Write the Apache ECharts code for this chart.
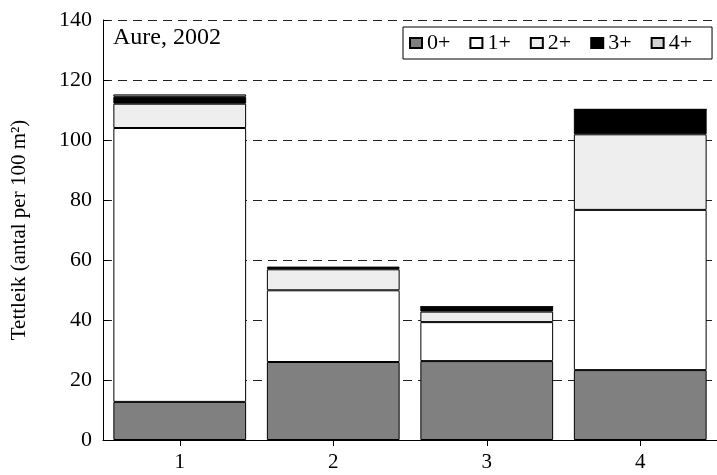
<!DOCTYPE html>
<html>
<head>
<meta charset="utf-8">
<script src="https://cdn.jsdelivr.net/npm/echarts@6/dist/echarts.min.js"></script>
<style>
  html, body { margin: 0; padding: 0; background: #fff; }
  #chart { width: 717px; height: 475px; }
</style>
</head>
<body>
<div id="chart"></div>
<script>
// stasjonar og tettleik per aldersgruppe (antal per 100 m2)
var stations = ['1', '2', '3', '4'];
var age0 = [12.7, 26.0, 26.3, 23.3];
var age1 = [91.3, 23.9, 13.0, 53.4];
var age2 = [8.1, 7.0, 3.5, 25.2];
var age3 = [2.3, 0.4, 1.6, 8.3];
var age4 = [0.8, 0.5, 0, 0];
var yTicks = [0, 20, 40, 60, 80, 100, 120, 140];

var serif = '"Liberation Serif", "Times New Roman", serif';

function segment(name, data, color){
    return {
        name: name,
        type: 'bar',
        stack: 'total',
        data: data,
        barCategoryGap: '13.5%',
        itemStyle: {
            color: color,
            borderColor: '#000',
            borderWidth: 1
        }
    };
}

var chart = echarts.init(document.getElementById('chart'));
var option = {
    animation: false,
    backgroundColor: '#fff',
    title: {
        text: 'Aure, 2002',
        left: 113,
        top: 26,
        padding: 0,
        textStyle: {
            fontFamily: serif,
            fontSize: 24,
            fontWeight: 'normal',
            color: '#000'
        }
    },
    legend: {
        left: 403,
        top: 27,
        width: 600,
        orient: 'horizontal',
        padding: [5, 20, 5, 6],
        itemGap: 19,
        itemWidth: 12,
        itemHeight: 10,
        icon: 'rect',
        borderColor: '#000',
        borderWidth: 1,
        backgroundColor: '#fff',
        textStyle: {
            fontFamily: serif,
            fontSize: 22,
            color: '#000'
        },
        data: ['0+', '1+', '2+', '3+', '4+']
    },
    grid: {
        left: 103,
        right: -10,
        top: 20,
        bottom: 35,
        containLabel: false
    },
    xAxis: {
        type: 'category',
        data: stations,
        axisLine: { lineStyle: { color: '#000', width: 1 } },
        axisTick: { show: true, alignWithLabel: true, length: 6, lineStyle: { color: '#000' } },
        axisLabel: {
            margin: 12,
            fontFamily: serif,
            fontSize: 21,
            color: '#000'
        },
        splitLine: { show: false }
    },
    yAxis: {
        type: 'value',
        min: yTicks[0],
        max: yTicks[yTicks.length - 1],
        interval: 20,
        name: 'Tettleik (antal per 100 m²)',
        nameLocation: 'middle',
        nameGap: 73,
        nameTextStyle: {
            fontFamily: serif,
            fontSize: 21,
            color: '#000'
        },
        axisLine: { show: true, lineStyle: { color: '#000', width: 1 } },
        axisTick: { show: true, inside: true, length: 6, lineStyle: { color: '#000' } },
        axisLabel: {
            margin: 11,
            fontFamily: serif,
            fontSize: 22,
            color: '#000'
        },
        splitLine: {
            show: true,
            lineStyle: { color: '#222', type: [9, 6], width: 1 }
        }
    },
    series: [
        segment('0+', age0, '#808080'),
        segment('1+', age1, '#ffffff'),
        segment('2+', age2, '#eeeeee'),
        segment('3+', age3, '#000000'),
        segment('4+', age4, '#d3d3d3')
    ]
};
chart.setOption(option);
</script>
</body>
</html>
